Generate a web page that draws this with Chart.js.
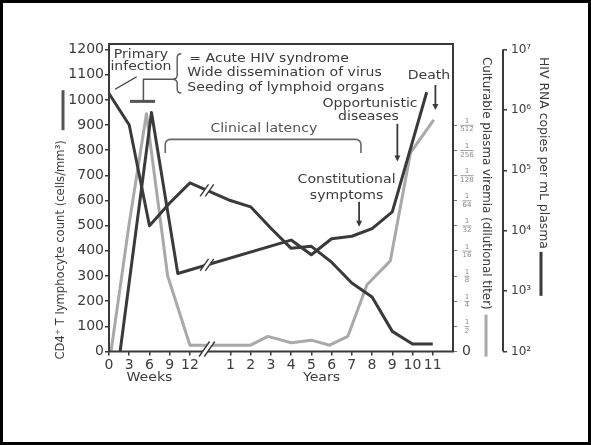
<!DOCTYPE html>
<html><head><meta charset="utf-8">
<script src="https://cdn.jsdelivr.net/npm/chart.js@4.4.1/dist/chart.umd.min.js"></script>
<style>html,body{margin:0;padding:0;background:#fff}#wrap{width:591px;height:445px}</style>
</head><body><div id="wrap"><canvas id="c" width="591" height="445"></canvas></div>
<script>
// ---- axis ticks ----
const xTickPositions = [0,1,2,3,4,6,7,8,9,10,11,12,13,14,15,16];
const xTickLabels = ['0','3','6','9','12','1','2','3','4','5','6','7','8','9','10','11'];
const cd4Ticks = [0,100,200,300,400,500,600,700,800,900,1000,1100,1200];
const viremiaTicks = [0,1,2,3,4,5,6,7,8,9];
const viremiaDenominators = ['', '2','4','8','16','32','64','128','256','512'];
const rnaTicks = [1e2,1e3,1e4,1e5,1e6,1e7];
const rnaLabels = ['10\u00B2','10\u00B3','10\u2074','10\u2075','10\u2076','10\u2077'];
// ---- series (x = timeline position: weeks 0-12 -> 0-4, years 1-11 -> 6-16) ----
const cd4Time  = [0,1,2,3,4,6,7,8,9,10,11,12,13,14,15,16];
const cd4Count = [1025,900,500,590,670,600,575,490,410,418,355,272,217,80,30,30];
const rnaTime   = [0.55,2.1,3.4,9,10,11,12,13,14,15.7];
const rnaCopies = [100,910000,1960,7000,4000,7360,8090,10800,20500,1960000];
const viremiaTime  = [0.1,1,1.85,2.9,4,6,7,7.85,9,10,10.9,11.8,12.75,13.9,14.9,16.05];
const viremiaTiter = [0,5.1,9.45,3.0,0.25,0.25,0.25,0.6,0.35,0.45,0.25,0.6,2.65,3.6,7.9,9.2];
const breakAt = 4.84;

const DARK = '#3a3a3a', GRAY = '#a9a9a9', TXT = '#3c3c3c';
Chart.defaults.font.family = "'DejaVu Sans', sans-serif";
Chart.defaults.color = TXT;

function pts(xs, ys){ return xs.map((x,i)=>({x:x, y:ys[i]})); }

function stretchText(ctx, s, x, y, align, size, sx, color){
  ctx.save();
  ctx.font = size + "px 'DejaVu Sans'";
  ctx.fillStyle = color || TXT;
  ctx.textBaseline = 'middle';
  ctx.textAlign = 'left';
  const w = ctx.measureText(s).width * sx;
  let x0 = x;
  if (align === 'center') x0 = x - w/2; else if (align === 'right') x0 = x - w;
  ctx.translate(x0, y); ctx.scale(sx, 1);
  ctx.fillText(s, 0, 0);
  ctx.restore();
}
function rotText(ctx, s, x, y, angle, size, color){
  ctx.save();
  ctx.font = size + "px 'DejaVu Sans'";
  ctx.fillStyle = color || TXT;
  ctx.textBaseline = 'middle'; ctx.textAlign = 'left';
  ctx.translate(x, y); ctx.rotate(angle);
  ctx.fillText(s, 0, 0);
  const w = ctx.measureText(s).width;
  ctx.restore();
  return w;
}
function line(ctx, pts, w, color){
  ctx.save(); ctx.beginPath(); ctx.lineWidth = w; ctx.strokeStyle = color || DARK;
  ctx.lineJoin='round';
  pts.forEach((p,i)=> i? ctx.lineTo(p[0],p[1]) : ctx.moveTo(p[0],p[1]));
  ctx.stroke(); ctx.restore();
}
function arrowDown(ctx, x, y1, y2){
  line(ctx, [[x,y1],[x,y2-4]], 1.8, DARK);
  ctx.save(); ctx.fillStyle = DARK; ctx.beginPath();
  ctx.moveTo(x-3, y2-6); ctx.lineTo(x+3, y2-6); ctx.lineTo(x, y2); ctx.closePath(); ctx.fill(); ctx.restore();
}
function breakMark(ctx, px, py, h){
  ctx.save(); ctx.translate(px, py);
  const d = 2.6, s = h*0.35;
  ctx.fillStyle = '#fff'; ctx.beginPath();
  ctx.moveTo(-d - s, h/2); ctx.lineTo(-d + s, -h/2); ctx.lineTo(d + s, -h/2); ctx.lineTo(d - s, h/2); ctx.closePath(); ctx.fill();
  ctx.strokeStyle = DARK; ctx.lineWidth = 1.4; ctx.beginPath();
  ctx.moveTo(-d - s, h/2); ctx.lineTo(-d + s, -h/2);
  ctx.moveTo(d - s, h/2); ctx.lineTo(d + s, -h/2); ctx.stroke();
  ctx.restore();
}
function pixelAt(chart, xs, ys, yId, b){
  const X = chart.scales.x, Y = chart.scales[yId];
  for (let i=0;i<xs.length-1;i++){
    if (xs[i] <= b && b <= xs[i+1]){
      const x1 = X.getPixelForValue(xs[i]), x2 = X.getPixelForValue(xs[i+1]);
      const y1 = Y.getPixelForValue(ys[i]), y2 = Y.getPixelForValue(ys[i+1]);
      const f = (b - xs[i])/(xs[i+1]-xs[i]);
      return [x1 + f*(x2-x1), y1 + f*(y2-y1)];
    }
  }
  return null;
}

const ANN = 12.5, SX = 1.125;
const decor = {
  id: 'decor',
  beforeDraw(chart){
    const c = chart.ctx; c.save(); c.fillStyle='#fff'; c.fillRect(0,0,chart.width,chart.height); c.restore();
  },
  afterDraw(chart){
    const c = chart.ctx, a = chart.chartArea;
    const X = v => chart.scales.x.getPixelForValue(v);
    const Y = v => chart.scales.y.getPixelForValue(v);
    // plot frame
    c.save(); c.strokeStyle = DARK; c.lineWidth = 2; c.strokeRect(a.left, a.top, a.right-a.left, a.bottom-a.top); c.restore();
    // breaks
    const pc = pixelAt(chart, cd4Time, cd4Count, 'y', breakAt); if (pc) breakMark(c, pc[0], pc[1], 12);
    const pr = pixelAt(chart, rnaTime, rnaCopies, 'yr', breakAt); if (pr) breakMark(c, pr[0], pr[1], 12);
    breakMark(c, X(breakAt), a.bottom - 2.5, 15);
    // RNA axis line
    const R = chart.scales.yr;
    line(c, [[R.left, R.getPixelForValue(1e7)], [R.left, R.getPixelForValue(1e2)]], 2, DARK);
    // viremia tick labels
    const V = chart.scales.yv;
    viremiaTicks.forEach((t,i)=>{
      const y = V.getPixelForValue(t), cx = V.left + 14;
      if (i === 0){ stretchText(c, '0', V.left + 9, y, 'left', 14, 1, TXT); return; }
      c.save(); c.font = "7px 'DejaVu Sans'"; c.fillStyle = '#8a8a8a'; c.textAlign='center'; c.textBaseline='middle';
      c.fillText('1', cx, y - 4); c.fillText(viremiaDenominators[i], cx, y + 4.5);
      const w = Math.max(5, c.measureText(viremiaDenominators[i]).width);
      c.strokeStyle = '#8a8a8a'; c.lineWidth = 0.8; c.beginPath(); c.moveTo(cx - w/2, y + 0.3); c.lineTo(cx + w/2, y + 0.3); c.stroke();
      c.restore();
    });
    // Weeks / Years
    stretchText(c, 'Weeks', X(2), a.bottom + 26, 'center', ANN, SX);
    stretchText(c, 'Years', X(10.5), a.bottom + 26, 'center', ANN, SX);
    // axis titles
    const wl = rotText(c, 'CD4\u207A T lymphocyte count (cells/mm\u00B3)', 60.5, a.bottom + 8, -Math.PI/2, 11.6);
    const endL = a.bottom + 8 - wl;
    line(c, [[63, endL - 10], [63, endL - 50]], 3, '#555');
    const wv = rotText(c, 'Culturable plasma viremia (dilutional titer)', 486, 57, Math.PI/2, 11.85);
    line(c, [[486, 57 + wv + 5], [486, 57 + wv + 47]], 3, GRAY);
    const wr = rotText(c, 'HIV RNA copies per mL plasma', 543, 57, Math.PI/2, 12.4);
    line(c, [[541, 57 + wr + 3], [541, 57 + wr + 47]], 3, DARK);
    // primary infection annotations
    stretchText(c, 'Primary', X(1.58), Y(1178), 'center', ANN, SX);
    stretchText(c, 'infection', X(1.58), Y(1130), 'center', ANN, SX);
    line(c, [[X(0.30), Y(1042)], [X(1.37), Y(1092)]], 1.3, DARK);
    line(c, [[X(1.04), Y(994)], [X(2.28), Y(994)]], 3, '#555');
    line(c, [[X(1.70), Y(994)], [X(1.70), Y(1082)], [X(3.12), Y(1082)]], 1.5, '#555');
    // brace
    (function(){
      const tip = X(3.12), sp = X(3.37), hk = X(3.57), t = Y(1183), m = Y(1082), b = Y(1027);
      c.save(); c.strokeStyle = '#555'; c.lineWidth = 1.4; c.beginPath();
      c.moveTo(hk, t); c.quadraticCurveTo(sp, t, sp, t+4); c.lineTo(sp, m-4);
      c.quadraticCurveTo(sp, m, tip, m); c.quadraticCurveTo(sp, m, sp, m+4);
      c.lineTo(sp, b-4); c.quadraticCurveTo(sp, b, hk, b); c.stroke(); c.restore();
    })();
    stretchText(c, '= Acute HIV syndrome', X(3.97), Y(1163), 'left', ANN, SX);
    stretchText(c, 'Wide dissemination of virus', X(3.87), Y(1107), 'left', ANN, SX);
    stretchText(c, 'Seeding of lymphoid organs', X(3.87), Y(1050), 'left', ANN, SX);
    // clinical latency
    stretchText(c, 'Clinical latency', X(7.65), Y(887), 'center', ANN, SX, '#555');
    (function(){
      const l = X(2.78), r = X(12.45), t = Y(843), e = Y(789), rad = 5;
      c.save(); c.strokeStyle = '#666'; c.lineWidth = 1.6; c.beginPath();
      c.moveTo(l, e); c.lineTo(l, t + rad); c.arcTo(l, t, l + rad, t, rad);
      c.lineTo(r - rad, t); c.arcTo(r, t, r, t + rad, rad); c.lineTo(r, e); c.stroke(); c.restore();
    })();
    // opportunistic, death, constitutional
    stretchText(c, 'Opportunistic', X(12.9), Y(986), 'center', ANN, SX);
    stretchText(c, 'diseases', X(12.82), Y(931), 'center', ANN, SX);
    arrowDown(c, X(14.25), Y(905), Y(755));
    stretchText(c, 'Death', X(15.81), Y(1095), 'center', ANN, SX);
    arrowDown(c, X(16.13), Y(1059), Y(960));
    stretchText(c, 'Constitutional', X(11.74), Y(682), 'center', ANN, SX);
    stretchText(c, 'symptoms', X(11.74), Y(618), 'center', ANN, SX);
    arrowDown(c, X(12.36), Y(595), Y(496));
    // outer frame
    c.save(); c.strokeStyle = '#000'; c.lineWidth = 3; c.strokeRect(1.5, 1.5, chart.width - 3, chart.height - 3); c.restore();
  }
};

const tickGrid = {drawOnChartArea:false, drawTicks:true, tickLength:4, color:DARK, lineWidth:1.5};

new Chart(document.getElementById('c'), {
  type: 'line',
  data: { datasets: [
    { label:'CD4+ T lymphocyte count', data: pts(cd4Time, cd4Count), yAxisID:'y', borderColor:DARK, borderWidth:3, pointRadius:0, tension:0, borderJoinStyle:'round', order:1 },
    { label:'HIV RNA copies', data: pts(rnaTime, rnaCopies), yAxisID:'yr', borderColor:DARK, borderWidth:3, pointRadius:0, tension:0, borderJoinStyle:'round', order:2 },
    { label:'Culturable plasma viremia', data: pts(viremiaTime, viremiaTiter), yAxisID:'yv', borderColor:GRAY, borderWidth:3, pointRadius:0, tension:0, borderJoinStyle:'round', order:3 }
  ]},
  options: {
    responsive:false, animation:false, devicePixelRatio:1,
    layout:{ padding:{left:0, right:38, top:44, bottom:53.5} },
    plugins:{ legend:{display:false}, tooltip:{enabled:false} },
    scales:{
      x:{ type:'linear', position:'bottom', min:0, max:17,
        afterBuildTicks: s => { s.ticks = xTickPositions.map(v=>({value:v})); },
        afterFit: s => { s.height = 40; },
        ticks:{ autoSkip:false, maxRotation:0, padding:1, font:{size:14}, color:TXT, callback:(v,i)=>xTickLabels[i] },
        grid: tickGrid, border:{display:false} },
      y:{ type:'linear', position:'left', min:0, max:1222,
        afterBuildTicks: s => { s.ticks = cd4Ticks.map(v=>({value:v})); },
        afterFit: s => { s.width = 109; },
        ticks:{ padding:1, font:{size:14}, color:TXT, callback:(v)=>String(v) },
        grid: tickGrid, border:{display:false} },
      yv:{ type:'linear', position:'right', weight:0, min:0, max:12.22,
        afterBuildTicks: s => { s.ticks = viremiaTicks.map(v=>({value:v})); },
        afterFit: s => { s.width = 50; },
        ticks:{ display:false },
        grid: Object.assign({}, tickGrid, {color:'#777', lineWidth:1}), border:{display:false} },
      yr:{ type:'logarithmic', position:'right', weight:1, min:100, max:1.235e7,
        afterBuildTicks: s => { s.ticks = rnaTicks.map(v=>({value:v})); },
        afterFit: s => { s.width = 50; },
        ticks:{ padding:4, font:{size:12}, color:TXT, callback:(v,i)=>rnaLabels[i] },
        grid: tickGrid, border:{display:false} }
    }
  },
  plugins:[decor]
});
</script></body></html>
